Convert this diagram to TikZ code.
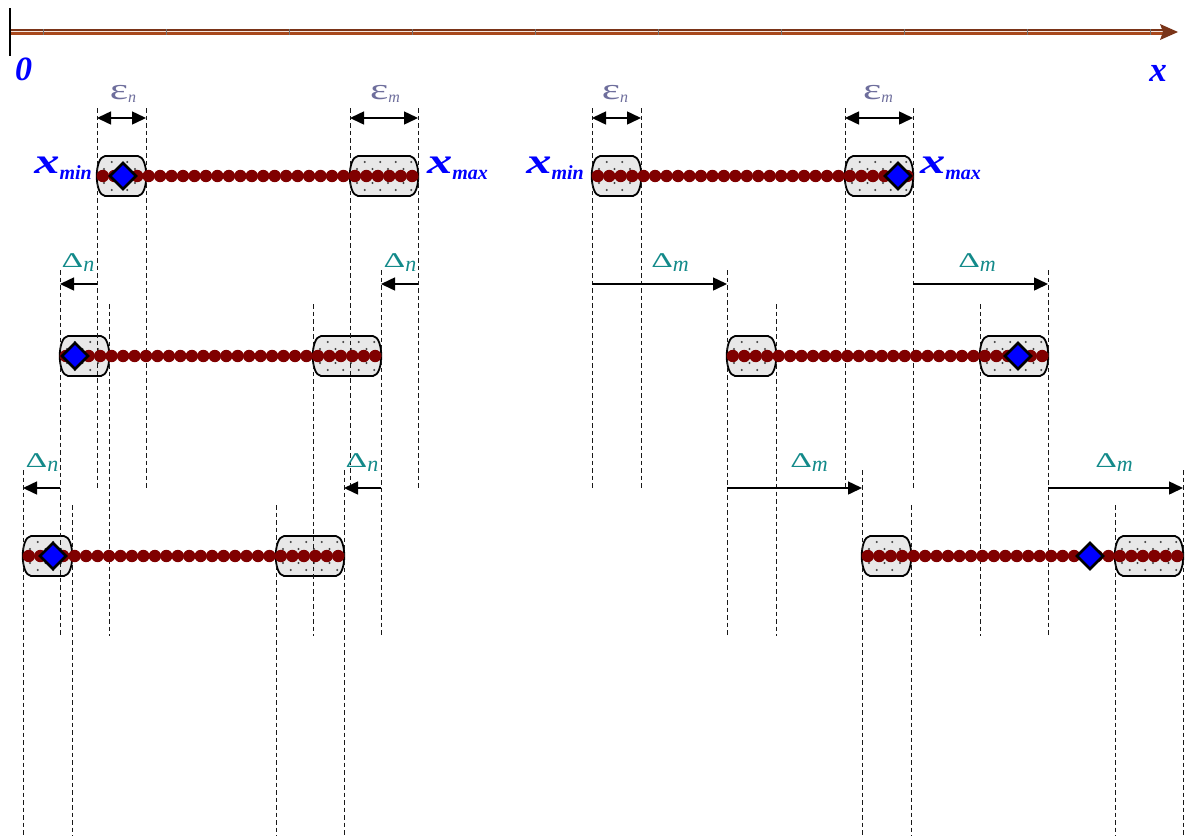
\documentclass[tikz,border=0pt]{standalone}
\usepackage{fontspec}
\usepackage{graphicx}
\setmainfont{Liberation Serif}
\usetikzlibrary{arrows.meta}
\definecolor{axdark}{HTML}{7A3418}
\definecolor{axlight}{HTML}{F4E6DE}
\definecolor{axbrown}{HTML}{A8481C}
\definecolor{dotred}{HTML}{800000}
\definecolor{tealc}{HTML}{138A8A}
\definecolor{epsgray}{HTML}{6E6E9C}
\definecolor{boxfill}{HTML}{E8E8E8}
\pgfdeclarelayer{bg}
\pgfdeclarelayer{fg}
\pgfsetlayers{bg,main,fg}
\tikzset{
  dashln/.style={black!90, line width=1pt, dash pattern=on 4.5pt off 3pt},
  dimarr/.style={line width=1.5pt, -{Triangle[length=14pt,width=13pt]}},
  dimboth/.style={line width=1.5pt, {Triangle[length=14pt,width=13pt]}-{Triangle[length=14pt,width=13pt]}},
  boxsh/.style={fill=boxfill, draw=black, line width=1.8pt},
  pdot/.style={fill=black!75},
  rdot/.style={fill=dotred},
  diam/.style={fill=blue, draw=black, line width=2.6pt, line join=miter},
  dlabel/.style={text=tealc, inner sep=0pt, anchor=base},
  elabel/.style={text=epsgray, inner sep=0pt, anchor=base},
  xlabel/.style={text=blue, inner sep=0pt},
}
\newcommand{\xsym}[1]{{\fontsize{36}{36}\selectfont\bfseries\itshape\scalebox{1.4}[1]{x}}\raisebox{-6pt}{\fontsize{20}{20}\selectfont\bfseries\itshape #1}}
\newcommand{\dsym}[1]{{\fontsize{21}{21}\selectfont\scalebox{1.6}[1]{Δ}}\raisebox{-4pt}{\fontsize{22}{22}\selectfont\itshape #1}}
\newcommand{\esym}[1]{{\fontsize{30}{30}\selectfont\scalebox{1.45}[1]{ε}}\raisebox{-3pt}{\fontsize{16}{16}\selectfont\itshape #1}}
\newcommand{\boxat}[3]{%
  \path[boxsh] ({#1+8},{#3-20}) -- ({#2-8},{#3-20}) .. controls ({#2+3},{#3-19}) and ({#2+3},{#3+19}) .. ({#2-8},{#3+20}) -- ({#1+8},{#3+20}) .. controls ({#1-3},{#3+19}) and ({#1-3},{#3-19}) .. ({#1+8},{#3-20}) -- cycle;}
\newcommand{\pdots}[4]{%
  \foreach \u in {#3} {\fill[pdot] ({#1+\u},{#2-7}) circle (1.1pt); \fill[pdot] ({#1+\u},{#2+7}) circle (1.1pt);}
  \foreach \u in {#4} {\fill[pdot] ({#1+\u},{#2-14}) circle (1.1pt); \fill[pdot] ({#1+\u},{#2+14}) circle (1.1pt);}}
% x0, yc, diamond x, outer top, inner top, bottom
\newcommand{\drawrow}[6]{%
  \begin{pgfonlayer}{bg}
    \boxat{#1}{#1+49}{#2}
    \boxat{#1+253}{#1+321}{#2}
    \pdots{#1}{#2}{7,22.5,38}{14.75,30.25}
    \pdots{#1+253}{#2}{7,22.5,38,53.5}{14.75,30.25,45.75,61.25}
  \end{pgfonlayer}
  \draw[dashln] ({#1},#4) -- ({#1},#6);
  \draw[dashln] ({#1+49},#5) -- ({#1+49},#6);
  \draw[dashln] ({#1+253},#5) -- ({#1+253},#6);
  \draw[dashln] ({#1+321},#4) -- ({#1+321},#6);
  \begin{pgfonlayer}{fg}
    \foreach \i in {0,...,27} \fill[rdot] ({#1+5.8+\i*11.46},#2) circle (6.2pt);
    \draw[diam] ({#3-13},#2) -- ({#3},{#2-13}) -- ({#3+13},#2) -- ({#3},{#2+13}) -- cycle;
  \end{pgfonlayer}}
\begin{document}
\begin{tikzpicture}[x=1pt,y=-1pt]
\useasboundingbox (0,0) rectangle (1186,836);
% axis
\coordinate (ax0) at (10,32);
\coordinate (ax1) at (1165,32);
\draw[axbrown, line width=2.4pt] (10,33.5) -- (1165,33.5);
\draw[axlight, line width=1.6pt] (10,31.6) -- (1165,31.6);
\draw[axdark, line width=1.4pt] (10,29.9) -- (1165,29.9);
\foreach \t in {0,...,9} \draw[black!55, line width=0.5pt] ({43+123*\t},29) -- ({43+123*\t},35);
\fill[axdark] (1160,24) -- (1178,32) -- (1160,40) -- (1163,32) -- cycle;
\draw[black, line width=2pt] (10,8) -- (10,56);
\node[xlabel] (zero) at (23.5,69.5) {\fontsize{34}{34}\selectfont\bfseries\itshape 0};
\node[xlabel] (xax) at (1158,73) {\fontsize{35}{35}\selectfont\bfseries\itshape x};
% rows
\drawrow{97}{176}{123}{108}{108}{488}
\drawrow{60}{356}{75}{270}{304}{636}
\drawrow{23}{556}{53}{470}{505}{836}
\drawrow{592}{176}{898}{108}{108}{488}
\drawrow{727}{356}{1018}{270}{304}{636}
\drawrow{862}{556}{1090}{470}{505}{836}
% x labels
\node[xlabel, anchor=base east] (xminL) at (92,173) {\xsym{min}};
\node[xlabel, anchor=base west] (xmaxL) at (427,173) {\xsym{max}};
\node[xlabel, anchor=base east] (xminR) at (584,173) {\xsym{min}};
\node[xlabel, anchor=base west] (xmaxR) at (920,173) {\xsym{max}};
% epsilon dimensions
\coordinate (eLa) at (97,118); \coordinate (eLb) at (146,118);
\coordinate (eLc) at (350,118); \coordinate (eLd) at (418,118);
\coordinate (eRa) at (592,118); \coordinate (eRb) at (641,118);
\coordinate (eRc) at (845,118); \coordinate (eRd) at (913,118);
\draw[dimboth] (eLa) -- (eLb);
\draw[dimboth] (eLc) -- (eLd);
\draw[dimboth] (eRa) -- (eRb);
\draw[dimboth] (eRc) -- (eRd);
\node[elabel] (enL) at (123,99) {\esym{n}};
\node[elabel] (emL) at (385,99) {\esym{m}};
\node[elabel] (enR) at (615,99) {\esym{n}};
\node[elabel] (emR) at (878,99) {\esym{m}};
% delta arrows row 2
\coordinate (d2a) at (97,284); \coordinate (d2b) at (60,284);
\coordinate (d2c) at (418,284); \coordinate (d2d) at (381,284);
\coordinate (d2e) at (592,284); \coordinate (d2f) at (727,284);
\coordinate (d2g) at (913,284); \coordinate (d2h) at (1048,284);
\draw[dimarr] (d2a) -- (d2b);
\draw[dimarr] (d2c) -- (d2d);
\draw[dimarr] (d2e) -- (d2f);
\draw[dimarr] (d2g) -- (d2h);
\node[dlabel] (D2a) at (78,267) {\dsym{n}};
\node[dlabel] (D2b) at (400,267) {\dsym{n}};
\node[dlabel] (D2c) at (670,267) {\dsym{m}};
\node[dlabel] (D2d) at (977,267) {\dsym{m}};
% delta arrows row 3
\coordinate (d3a) at (60,488); \coordinate (d3b) at (23,488);
\coordinate (d3c) at (381,488); \coordinate (d3d) at (344,488);
\coordinate (d3e) at (727,488); \coordinate (d3f) at (862,488);
\coordinate (d3g) at (1048,488); \coordinate (d3h) at (1183,488);
\draw[dimarr] (d3a) -- (d3b);
\draw[dimarr] (d3c) -- (d3d);
\draw[dimarr] (d3e) -- (d3f);
\draw[dimarr] (d3g) -- (d3h);
\node[dlabel] (D3a) at (42,467) {\dsym{n}};
\node[dlabel] (D3b) at (362,467) {\dsym{n}};
\node[dlabel] (D3c) at (809,467) {\dsym{m}};
\node[dlabel] (D3d) at (1114,467) {\dsym{m}};
\end{tikzpicture}
\end{document}
